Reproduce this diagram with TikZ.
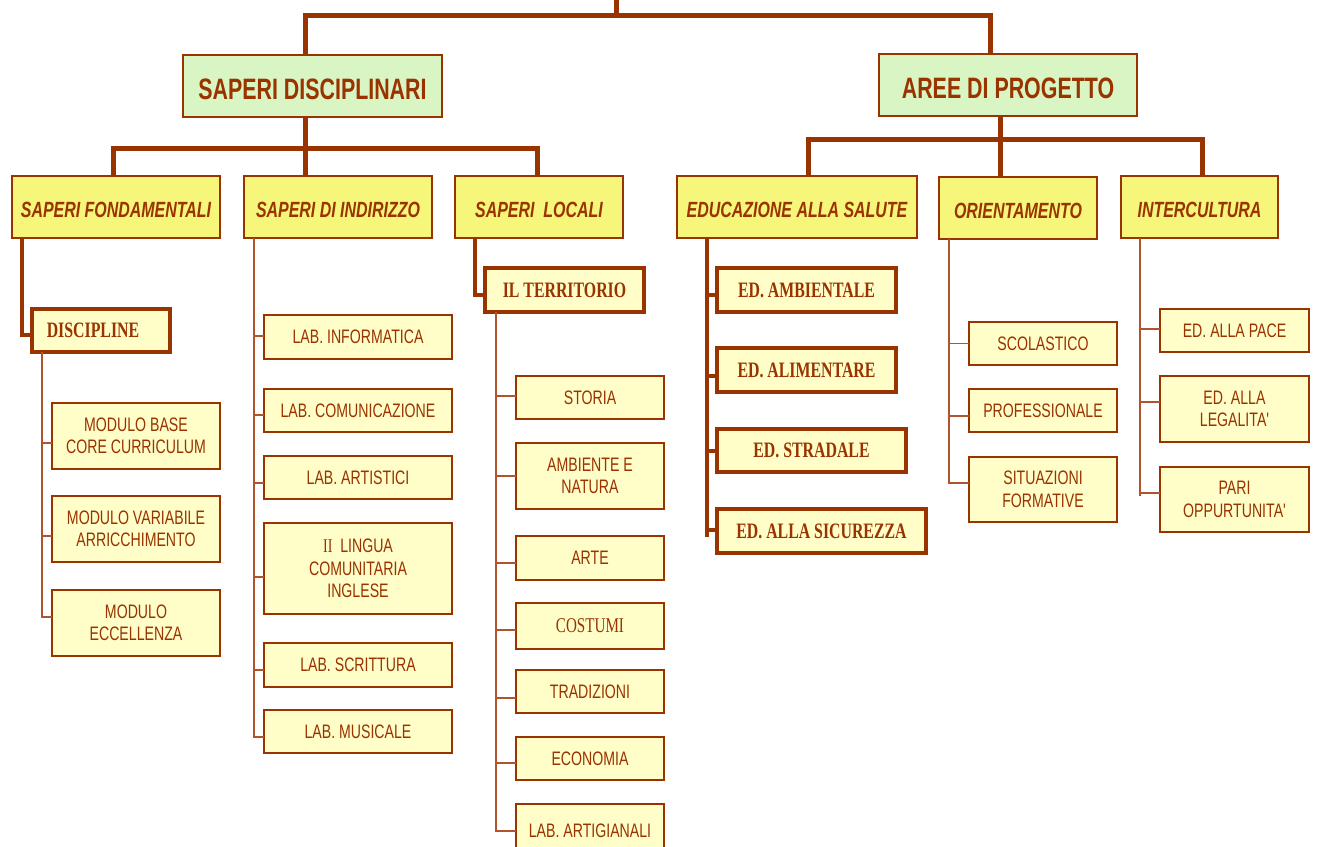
\documentclass[tikz,border=0pt]{standalone}
\usepackage{fontspec}
\newfontfamily\nsans[FakeStretch=0.725]{Liberation Sans}
\newfontfamily\nserif[FakeStretch=0.72]{Liberation Serif}
\definecolor{brn}{RGB}{153,51,0}
\definecolor{thinbrn}{RGB}{176,84,46}
\definecolor{grnfill}{RGB}{218,245,196}
\definecolor{yelfill}{RGB}{246,246,122}
\definecolor{leaffill}{RGB}{255,253,200}
\newcommand\bx[7]{%
  \pgfmathsetmacro\bxw{#5-#3}\pgfmathsetmacro\bxh{#6-#4}%
  \pgfmathsetmacro\bxx{(#3+#5)/2}\pgfmathsetmacro\bxy{(#4+#6)/2}%
  \node[#1, minimum width=\bxw pt, minimum height=\bxh pt] (#2) at (\bxx,\bxy) {#7};}
% text whose cap centre sits 3pt below the box centre
\newcommand\dnA[1]{\raisebox{-13.5pt}[0pt][0pt]{#1}}
\newcommand\dnB[1]{\raisebox{-10.8pt}[0pt][0pt]{#1}}
\tikzset{
  allbox/.style={rectangle, inner sep=0pt, outer sep=0pt, text=brn, align=center},
  green/.style={allbox, fill=grnfill, draw=brn, line width=1.6pt,
    font=\nsans\fontsize{29.5}{32}\selectfont\bfseries},
  cat/.style={allbox, fill=yelfill, draw=brn, line width=1.6pt,
    font=\nsans\fontsize{22}{24}\selectfont\bfseries\itshape},
  leaf/.style={allbox, fill=leaffill, draw=brn, line width=1.5pt,
    font=\nsans\fontsize{19.5}{22.5}\selectfont},
  heavy/.style={allbox, fill=leaffill, draw=brn, line width=3.5pt,
    font=\nserif\fontsize{22}{24}\selectfont\bfseries},
  trunk/.style={draw=brn, line width=5pt, line join=miter},
  sub/.style={draw=brn, line width=4pt, line join=miter},
  twig/.style={draw=thinbrn, line width=1.6pt, line join=miter},
}
\begin{document}
\begin{tikzpicture}[x=1pt, y=-1pt]
\useasboundingbox (0,0) rectangle (1317,846);
% reference coordinates
\coordinate (top) at (616,0);
\coordinate (bar0) at (616,15);
\coordinate (barA) at (305,148);
\coordinate (barB) at (1000,139);
\foreach \n/\v in {x22/22,x42/42,x113/113,x254/254,x305/305,x475/475,x496/496,x537/537,
  x707/707,x808/808,x949/949,x990/990,x1000/1000,x1140/1140,x1202/1202}
  {\coordinate (\n) at (\v,0);}

% top level
\bx{green}{SD}{183}{55}{442}{117}{\dnA{SAPERI DISCIPLINARI}}
\bx{green}{AP}{879}{54}{1137}{116}{\dnA{AREE DI PROGETTO}}

% categories
\bx{cat}{SF}{12}{176}{220}{238}{\dnB{SAPERI FONDAMENTALI}}
\bx{cat}{SDI}{244}{176}{432}{238}{\dnB{SAPERI DI INDIRIZZO}}
\bx{cat}{SL}{455}{176}{623}{238}{\dnB{SAPERI\ \ LOCALI}}
\bx{cat}{EAS}{677}{176}{917}{238}{\dnB{EDUCAZIONE ALLA SALUTE}}
\bx{cat}{OR}{939}{177}{1097}{239}{\dnB{ORIENTAMENTO}}
\bx{cat}{IC}{1121}{176}{1278}{238}{\dnB{INTERCULTURA}}

% trunk connectors
\draw[trunk] (top) -- (bar0);
\draw[trunk] (SD.north -| x305) |- (bar0 -| x990) -- (AP.north -| x990);
\draw[trunk] (SD.south -| x305) -- (SDI.north -| x305);
\draw[trunk] (SF.north -| x113) |- (barA) -| (SL.north -| x537);
\draw[trunk] (AP.south -| x1000) -- (OR.north -| x1000);
\draw[trunk] (EAS.north -| x808) |- (barB) -| (IC.north -| x1202);

% SAPERI FONDAMENTALI
\bx{heavy}{DIS}{32}{309}{170}{352}{\hspace*{-16pt}DISCIPLINE}
\draw[sub] (SF.south -| x22) |- ([yshift=-4pt]DIS.west);
\bx{leaf}{L1}{52}{403}{220}{469}{MODULO BASE\\CORE CURRICULUM}
\bx{leaf}{L2}{52}{496}{220}{562}{MODULO VARIABILE\\ARRICCHIMENTO}
\bx{leaf}{L3}{52}{590}{220}{656}{MODULO\\ECCELLENZA}
\draw[twig] (DIS.south -| x42) |- ([yshift=6pt]L3.west);
\foreach \b/\d in {L1/-7,L2/-7}
  \draw[twig] ([yshift=\d pt]\b.west -| x42) -- ([yshift=\d pt]\b.west);

% SAPERI DI INDIRIZZO
\bx{leaf}{I1}{264}{315}{452}{359}{LAB. INFORMATICA}
\bx{leaf}{I2}{264}{389}{452}{432}{LAB. COMUNICAZIONE}
\bx{leaf}{I3}{264}{456}{452}{499}{LAB. ARTISTICI}
\bx{leaf}{I4}{264}{523}{452}{614}{{\nserif II}\ \ LINGUA\\COMUNITARIA\\INGLESE}
\bx{leaf}{I5}{264}{643}{452}{687}{LAB. SCRITTURA}
\bx{leaf}{I6}{264}{710}{452}{753}{LAB. MUSICALE}
\draw[twig] (SDI.south -| x254) |- ([yshift=-5.5pt]I6.west);
\foreach \b/\d in {I1/1,I2/-4.5,I3/-5.5,I4/-8.5,I5/-5}
  \draw[twig] ([yshift=\d pt]\b.west -| x254) -- ([yshift=\d pt]\b.west);

% SAPERI LOCALI
\bx{heavy}{TER}{485}{268}{644}{312}{IL TERRITORIO}
\draw[sub] (SL.south -| x475) |- ([yshift=-5pt]TER.west);
\bx{leaf}{T1}{516}{376}{664}{419}{STORIA}
\bx{leaf}{T2}{516}{443}{664}{509}{AMBIENTE E\\NATURA}
\bx{leaf}{T3}{516}{536}{664}{580}{ARTE}
\bx{leaf,font=\nserif\fontsize{21}{24}\selectfont}{T4}{516}{603}{664}{649}{COSTUMI}
\bx{leaf}{T5}{516}{670}{664}{713}{TRADIZIONI}
\bx{leaf}{T6}{516}{737}{664}{780}{ECONOMIA}
\bx{leaf}{T7}{516}{804}{664}{858}{LAB. ARTIGIANALI}
\draw[twig] (TER.south -| x496) |- (T7.west);
\foreach \b/\d in {T1/1.5,T2/0,T3/-5,T4/-4,T5/-6.5,T6/-4.5}
  \draw[twig] ([yshift=\d pt]\b.west -| x496) -- ([yshift=\d pt]\b.west);

% EDUCAZIONE ALLA SALUTE
\bx{heavy}{E1}{717}{268}{896}{312}{ED. AMBIENTALE}
\bx{heavy}{E2}{717}{348}{896}{392}{ED. ALIMENTARE}
\bx{heavy}{E3}{717}{429}{906}{472}{ED. STRADALE}
\bx{heavy}{E4}{717}{509}{926}{553}{ED. ALLA SICUREZZA}
\draw[sub] (EAS.south -| x707) -- ([yshift=-6pt]E4.west -| x707);
\foreach \b/\d in {E1/-5,E2/-6,E3/0,E4/1}
  \draw[sub] ([yshift=\d pt]\b.west -| x707) -- ([yshift=\d pt]\b.west);

% ORIENTAMENTO
\bx{leaf}{O1}{969}{322}{1117}{365}{SCOLASTICO}
\bx{leaf}{O2}{969}{389}{1117}{432}{PROFESSIONALE}
\bx{leaf}{O3}{969}{457}{1117}{522}{SITUAZIONI\\FORMATIVE}
\draw[twig] (OR.south -| x949) |- ([yshift=6.5pt]O3.west);
\foreach \b/\d in {O1/0,O2/-5.5}
  \draw[twig] ([yshift=\d pt]\b.west -| x949) -- ([yshift=\d pt]\b.west);

% INTERCULTURA
\bx{leaf}{C1}{1160}{309}{1309}{352}{ED. ALLA PACE}
\bx{leaf}{C2}{1160}{376}{1309}{442}{ED. ALLA\\LEGALITA'}
\bx{leaf}{C3}{1160}{467}{1309}{532}{PARI\\OPPURTUNITA'}
\draw[twig] (IC.south -| x1140) -- ([yshift=3.5pt]C3.west -| x1140);
\foreach \b/\d in {C1/1.5,C2/7,C3/6.5}
  \draw[twig] ([yshift=\d pt]\b.west -| x1140) -- ([yshift=\d pt]\b.west);
\end{tikzpicture}
\end{document}
